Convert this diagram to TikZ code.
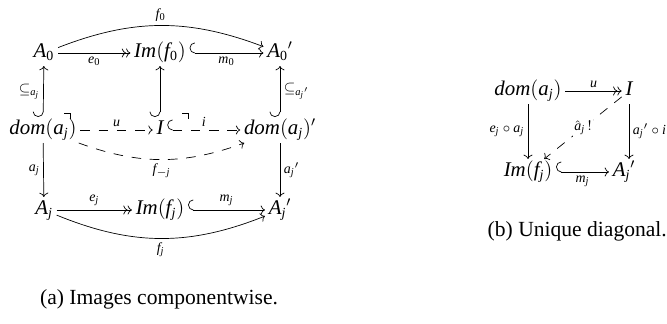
\documentclass[tikz,border=0pt]{standalone}
\usepackage{mathspec}
\setmainfont{Liberation Serif}
\setmathsfont(Digits,Latin){Liberation Serif}
\usepackage{tikz}
\usetikzlibrary{arrows.meta, positioning}

\begin{document}
\begin{tikzpicture}[x=0.0202cm, y=-0.0202cm,
        obj/.style={inner sep=2pt, font=\fontsize{12}{14}\selectfont, text height=1.7ex, text depth=.6ex},
        lab/.style={inner sep=2pt, font=\footnotesize},
        captext/.style={font=\fontsize{12.4}{15}\selectfont},
        hookto/.style={{Hooks[right, length=3pt, width=12pt]}->},
        epi/.style={->>},
        longdash/.style={dash pattern=on 5.5pt off 5pt}]
        \useasboundingbox (0,0) rectangle (667,324);

        % (a) images componentwise
        \node[obj] (A0) at (44,53) {$A_0$};
        \node[obj] (Im0) at (160,53) {$Im(f_0)$};
        \node[obj] (A0p) at (280,53) {${A_0}'$};
        \node[obj] (dom1) at (43,130) {$dom(a_j)$};
        \node[obj] (I1) at (160,130) {$I$};
        \node[obj] (domp) at (280,130) {$dom(a_j)'$};
        \node[obj] (Aj) at (44,210) {$A_j$};
        \node[obj] (Imj) at (160,210) {$Im(f_j)$};
        \node[obj] (Ajp) at (280,210) {${A_j}'$};

        \draw[epi] (A0) -- node[lab, below] {$e_0$} (Im0);
        \draw[hookto] (Im0) -- node[lab, below] {$m_0$} (A0p);
        \draw[->] (A0) to[bend left=21] node[lab, above] {$f_0$} (A0p);
        \draw[hookto] (dom1) -- node[lab, left] {$\subseteq_{a_j}$} (A0);
        \draw[hookto] (I1) -- (Im0);
        \draw[hookto] (domp) -- node[lab, right] {$\subseteq_{{a_j}'}$} (A0p);
        \draw[->, longdash] (dom1) -- node[lab, above] {$u$} (I1);
        \draw[hookto, longdash] (I1) -- node[lab, above] {$i$} (domp);
        \draw[->, longdash] (dom1) to[bend right=20] node[lab, below] {$f_{-j}$} (domp);
        \draw[->] (dom1) -- node[lab, left] {$a_j$} (Aj);
        \draw[->] (domp) -- node[lab, right] {${a_j}'$} (Ajp);
        \draw[epi] (Aj) -- node[lab, above] {$e_j$} (Imj);
        \draw[hookto] (Imj) -- node[lab, above] {$m_j$} (Ajp);
        \draw[->] (Aj) to[bend right=22] node[lab, below] {$f_j$} (Ajp);

        % pullback corners
        \coordinate (pb1) at (70,113);
        \coordinate (pb2) at (188,113);
        \draw (pb1) ++(-6,0) -- (pb1) -- ++(0,6);
        \draw (pb2) ++(-6,0) -- (pb2) -- ++(0,6);

        \node[captext, anchor=west] (capa) at (34,299) {(a) Images componentwise.};

        % (b) unique diagonal
        \node[obj] (dom2) at (528,91) {$dom(a_j)$};
        \node[obj] (I2) at (629,91) {$I$};
        \node[obj] (Imj2) at (528,172) {$Im(f_j)$};
        \node[obj] (Ajp2) at (624,172) {${A_j}'$};

        \draw[epi] (dom2) -- node[lab, above] {$u$} (I2);
        \draw[->] (dom2) -- node[lab, left] {$e_j\circ a_j$} (Imj2);
        \draw[->] (I2) -- node[lab, right] {${a_j}'\circ i$} (I2 |- Ajp2.north);
        \draw[hookto] (Imj2) -- node[lab, below] {$m_j$} (Ajp2);
        \draw[->, longdash] (I2) -- node[lab, fill=white, inner sep=1pt] {$\hat{a}_j\,!$} (Imj2);

        \node[captext, anchor=east] (capb) at (673,231) {(b) Unique diagonal.};
\end{tikzpicture}
\end{document}
